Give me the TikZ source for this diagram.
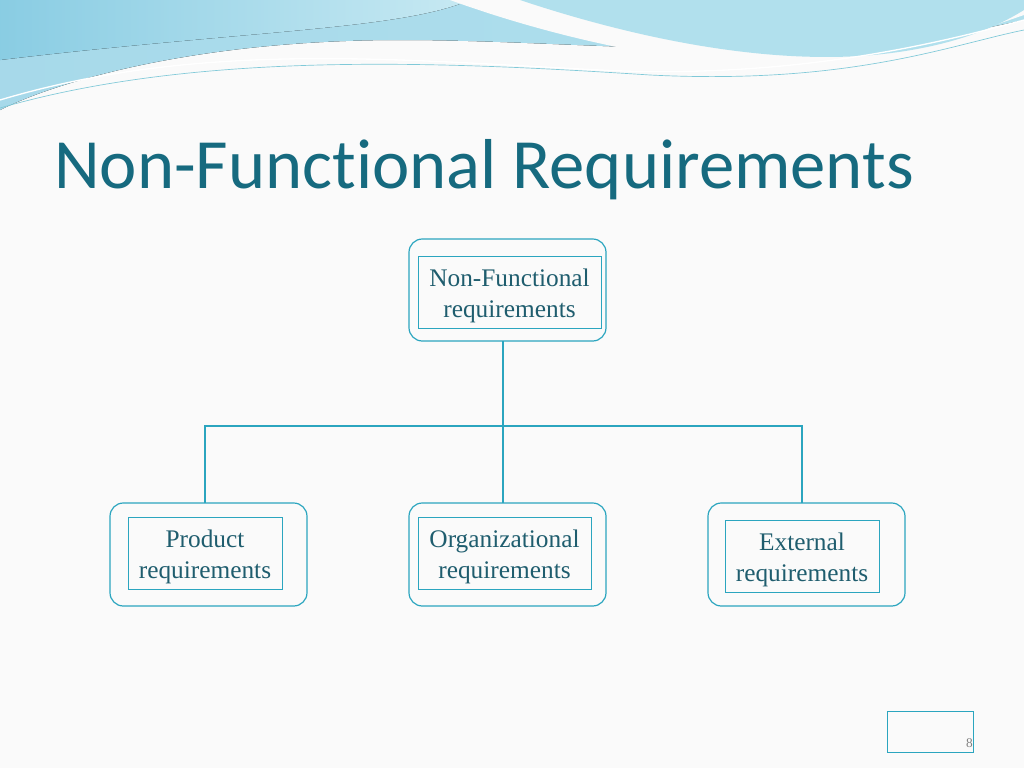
\documentclass[tikz,border=0pt]{standalone}
\usepackage{fontspec}
\newfontfamily\titlefont[Ligatures=NoCommon]{Carlito}
\setmainfont{Liberation Serif}
\begin{document}
\begin{tikzpicture}[x=0.75pt,y=-0.75pt]
\definecolor{linec}{HTML}{2BA5BF}
\definecolor{txt}{HTML}{1F5D6E}
\definecolor{ttl}{HTML}{166A7F}
\definecolor{wave1}{HTML}{8FD3E6}
\definecolor{wave2}{HTML}{6CC0DC}
\tikzset{outer/.style={draw=linec,line width=0.9pt,rounded corners=10pt},
 inner/.style={draw=linec,line width=0.7pt},
 lbl/.style={text=txt,font=\fontsize{19}{23.5}\selectfont,align=center,inner sep=1pt},
 conn/.style={draw=linec,line width=0.9pt}}
\useasboundingbox (0,0) rectangle (1024,768);
\fill[white!96!gray] (0,0) rectangle (1024,768);
% waves
\fill[left color=wave2!60,right color=wave1!70] (0,0) -- (1024,0) -- (1024,20) .. controls (800,70) and (600,40) .. (400,40) .. controls (200,40) and (60,80) .. (0,110) -- cycle;
\fill[left color=wave2!80,right color=wave1!50] (0,0) -- (470,0) .. controls (400,30) and (250,30) .. (0,60) -- cycle;
\fill[white!96!gray] (450,0) .. controls (560,40) and (700,70) .. (800,65) .. controls (900,60) and (980,30) .. (1024,15) -- (1024,0) -- cycle;
\fill[wave1!70] (520,0) .. controls (640,40) and (760,62) .. (860,56) .. controls (950,50) and (1000,25) .. (1024,10) -- (1024,0) -- cycle;
\draw[white,line width=1pt] (0,100) .. controls (200,40) and (400,60) .. (600,70) .. controls (800,80) and (950,40) .. (1024,20);
\draw[linec!60,line width=0.5pt] (0,108) .. controls (200,50) and (450,62) .. (650,75) .. controls (850,85) and (950,45) .. (1024,30);
% title
\node[anchor=base west,inner sep=0,text=ttl,font=\titlefont\fontsize{53}{60}\selectfont] (title) at (54,188) {Non-Functional Requirements};
% boxes
\node[outer,minimum width=147.75pt,minimum height=76.5pt] (top) at (507.5,290) {};
\node[inner,minimum width=137.25pt,minimum height=54pt] (topi) at (509.5,292) {};
\node[lbl] (topt) at (509.5,296) {Non-Functional\\requirements};
\node[outer,minimum width=147.75pt,minimum height=77.25pt] (p) at (208.5,554.5) {};
\node[inner,minimum width=115.5pt,minimum height=54pt] (pi) at (205,553) {};
\node[lbl] (pt) at (205,557) {Product\\requirements};
\node[outer,minimum width=147.75pt,minimum height=77.25pt] (o) at (507.5,554.5) {};
\node[inner,minimum width=129.75pt,minimum height=54pt] (oi) at (504.5,553) {};
\node[lbl] (ot) at (504.5,557) {Organizational\\requirements};
\node[outer,minimum width=147.75pt,minimum height=77.25pt] (e) at (806.5,554.5) {};
\node[inner,minimum width=115.5pt,minimum height=54pt] (ei) at (802,556) {};
\node[lbl] (et) at (802,560) {External\\requirements};
\coordinate (j) at (503,426);
\draw[conn] (503,341) -- (j);
\draw[conn] (205,503) -- (205,426) -- (802,426) -- (802,503);
\draw[conn] (j) -- (503,503);
% page number
\node[draw=linec,line width=0.6pt,minimum width=64.5pt,minimum height=30.75pt] (pg) at (930,731.5) {};
\node[anchor=base east,inner sep=0,text=gray,font=\fontsize{10}{12}\selectfont] (pn) at (973,747) {8};
\end{tikzpicture}
\end{document}
